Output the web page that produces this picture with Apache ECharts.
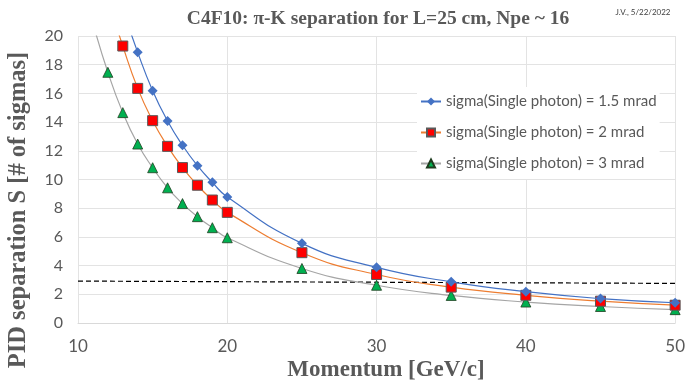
<!DOCTYPE html>
<html>
<head>
<meta charset="utf-8">
<script src="https://cdn.jsdelivr.net/npm/echarts@6/dist/echarts.min.js"></script>
<style>html,body{margin:0;padding:0;background:#fff}#c{width:688px;height:385px}</style>
</head>
<body>
<div id="c"></div>
<script>
// Data (points above 20 are clipped by the axis)
const seriesNames = [
  'sigma(Single photon) = 1.5 mrad',
  'sigma(Single photon) = 2 mrad',
  'sigma(Single photon) = 3 mrad'
];
const blueX = [13, 14, 15, 16, 17, 18, 19, 20, 25, 30, 35, 40, 45, 50];
const blueY = [21.9, 18.86, 16.19, 14.08, 12.38, 10.96, 9.80, 8.78, 5.55, 3.88, 2.87, 2.18, 1.70, 1.41];
const redX = [12, 13, 14, 15, 16, 17, 18, 19, 20, 25, 30, 35, 40, 45, 50];
const redY = [22.6, 19.30, 16.35, 14.10, 12.31, 10.83, 9.60, 8.57, 7.71, 4.90, 3.38, 2.50, 1.93, 1.52, 1.24];
const greenX = [11, 12, 13, 14, 15, 16, 17, 18, 19, 20, 25, 30, 35, 40, 45, 50];
const greenY = [20.9, 17.47, 14.66, 12.47, 10.82, 9.42, 8.32, 7.41, 6.64, 5.94, 3.80, 2.63, 1.92, 1.46, 1.15, 0.93];
const limitX = [10, 50];
const limitY = [2.92, 2.76];
const xTicks = [10, 20, 30, 40, 50];
const yTicks = [0, 2, 4, 6, 8, 10, 12, 14, 16, 18, 20];

const pairs = (xs, ys) => xs.map((x, i) => [x, ys[i]]);
const chart = echarts.init(document.getElementById('c'), null, {renderer: 'canvas'});
const labelFont = 'Lato, "Open Sans", sans-serif';
const serif = '"Liberation Serif", "DejaVu Serif", serif';

chart.setOption({
  animation: false,
  backgroundColor: '#ffffff',
  grid: {left: 78, right: 9, top: 36, bottom: 62, containLabel: false},
  xAxis: {
    type: 'value', min: xTicks[0], max: xTicks[xTicks.length - 1], interval: 10,
    axisLine: {show: true, lineStyle: {color: '#d9d9d9', width: 1}},
    axisTick: {show: false},
    axisLabel: {color: '#595959', fontSize: 17, fontFamily: labelFont, margin: 15},
    splitLine: {show: true, lineStyle: {color: '#e3e3e3', width: 1}}
  },
  yAxis: {
    type: 'value', min: yTicks[0], max: yTicks[yTicks.length - 1], interval: 2,
    axisLine: {show: false},
    axisTick: {show: false},
    axisLabel: {color: '#595959', fontSize: 16, fontFamily: labelFont, margin: 15},
    splitLine: {show: true, lineStyle: {color: '#e3e3e3', width: 1}}
  },
  legend: {
    orient: 'vertical',
    left: 417, top: 87,
    padding: [7, 3, 8, 3],
    itemGap: 16, itemWidth: 20, itemHeight: 10,
    backgroundColor: '#ffffff',
    data: seriesNames,
    textStyle: {color: '#595959', fontSize: 15, fontFamily: labelFont}
  },
  graphic: [
    {type: 'text', x: 378, y: 19, style: {text: 'C4F10: \u03c0-K separation for L=25 cm, Npe ~ 16', font: 'bold 19.5px ' + serif, fill: '#595959', textAlign: 'center', textVerticalAlign: 'middle'}},
    {type: 'text', x: 643, y: 12, style: {text: 'J.V., 5/22/2022', font: '8px ' + labelFont, fill: '#404040', textAlign: 'center', textVerticalAlign: 'middle'}},
    {type: 'text', x: 386, y: 370, style: {text: 'Momentum [GeV/c]', font: 'bold 23px ' + serif, fill: '#595959', textAlign: 'center', textVerticalAlign: 'middle'}},
    {type: 'text', x: 19, y: 210, rotation: Math.PI / 2, style: {text: 'PID separation S [# of sigmas]', font: 'bold 24.5px ' + serif, fill: '#595959', textAlign: 'center', textVerticalAlign: 'middle'}}
  ],
  series: [
    {
      name: 'limit', type: 'line', data: pairs(limitX, limitY), symbol: 'none', silent: true,
      lineStyle: {color: '#000000', width: 1.2, type: [5, 3]}, z: 1
    },
    {
      name: seriesNames[2], type: 'line', data: pairs(greenX, greenY), smooth: true, clip: true,
      symbol: 'triangle', symbolSize: 10,
      itemStyle: {color: '#00B050', borderColor: '#1f3d1f', borderWidth: 0.8},
      lineStyle: {color: '#A5A5A5', width: 1.2}, z: 2
    },
    {
      name: seriesNames[1], type: 'line', data: pairs(redX, redY), smooth: true, clip: true,
      symbol: 'rect', symbolSize: 10,
      itemStyle: {color: '#FF0000', borderColor: '#595959', borderWidth: 1},
      lineStyle: {color: '#ED7D31', width: 1.2}, z: 3
    },
    {
      name: seriesNames[0], type: 'line', data: pairs(blueX, blueY), smooth: true, clip: true,
      symbol: 'diamond', symbolSize: 10,
      itemStyle: {color: '#4472C4'},
      lineStyle: {color: '#4472C4', width: 1.2}, z: 4
    }
  ]
});
</script>
</body>
</html>
